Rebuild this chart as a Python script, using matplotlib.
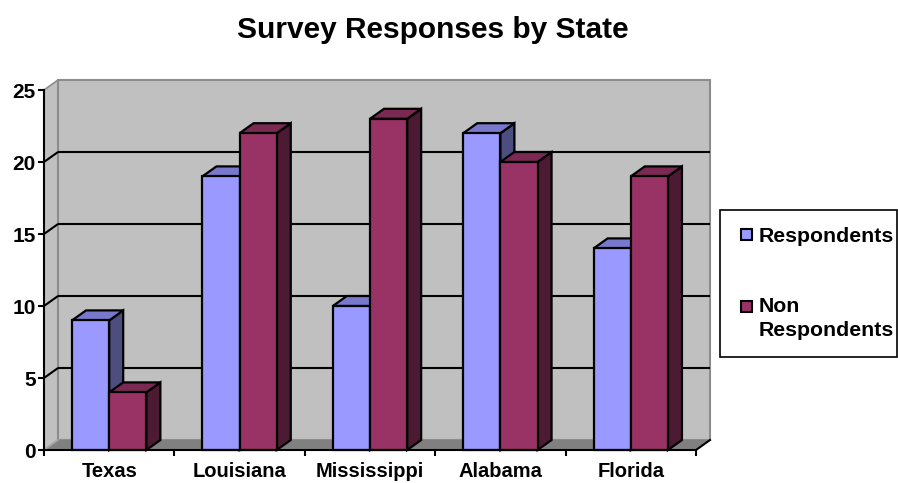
import matplotlib
matplotlib.use("Agg")
import matplotlib.pyplot as plt
from matplotlib.patches import Polygon, Rectangle

plt.rcParams['font.family'] = ['Liberation Sans', 'DejaVu Sans']

# Data
states = ["Texas", "Louisiana", "Mississippi", "Alabama", "Florida"]
respondents = [9, 19, 10, 22, 14]
non_respondents = [4, 22, 23, 20, 19]
series_names = ["Respondents", "Non\nRespondents"]
y_ticks = [0, 5, 10, 15, 20, 25]

# Styling
front_cols = ["#9999FF", "#993366"]
top_cols = ["#7878CC", "#7A2952"]
side_cols = ["#4D4D80", "#4D1A33"]
wall_col = "#C0C0C0"
floor_col = "#808080"
edge_gray = "#8C8C8C"

W, H = 898, 483
fig = plt.figure(figsize=(W / 100, H / 100), dpi=100)

# front plane of the plot area (pixels from top-left)
px_left, px_right, px_bottom, px_top = 44, 696, 450, 90
ax = fig.add_axes([px_left / W, 1 - px_bottom / H,
                   (px_right - px_left) / W, (px_bottom - px_top) / H])
ax.set_xlim(-0.5, len(states) - 0.5)
ax.set_ylim(0, 25)
ax.set_facecolor("none")

# 3-D depth offset in data units
x_per_px = len(states) / (px_right - px_left)
y_per_px = 25 / (px_bottom - px_top)
ddx = 14 * x_per_px
ddy = 10 * y_per_px

x0, x1 = -0.5, len(states) - 0.5
y0, y1 = 0, 25

# side wall (left)
ax.add_patch(Polygon([(x0, y0), (x0, y1), (x0 + ddx, y1 + ddy), (x0 + ddx, y0 + ddy)],
                     closed=True, facecolor=wall_col, edgecolor=edge_gray, lw=1.2,
                     clip_on=False, zorder=1))
# back wall
ax.add_patch(Rectangle((x0 + ddx, y0 + ddy), x1 - x0, y1 - y0,
                       facecolor=wall_col, edgecolor=edge_gray, lw=1.5,
                       clip_on=False, zorder=1))
# gridlines on back and side walls
for v in y_ticks[1:-1]:
    ax.plot([x0 + ddx, x1 + ddx], [v + ddy, v + ddy], color="black", lw=1.5,
            clip_on=False, zorder=2, solid_capstyle="butt")
    ax.plot([x0, x0 + ddx], [v, v + ddy], color="black", lw=1.5,
            clip_on=False, zorder=2, solid_capstyle="butt")
# floor
ax.add_patch(Polygon([(x0, y0), (x1, y0), (x1 + ddx, y0 + ddy), (x0 + ddx, y0 + ddy)],
                     closed=True, facecolor=floor_col, edgecolor="none",
                     clip_on=False, zorder=3))
ax.plot([x0, x0 + ddx], [y0, y0 + ddy], color="#A8A8A8", lw=1.2, clip_on=False, zorder=3)
ax.plot([x1, x1 + ddx], [y0, y0 + ddy], color="black", lw=1.5, clip_on=False, zorder=3)


def draw_box(xl, w, h, s, z):
    xr = xl + w
    kw = dict(closed=True, edgecolor="black", lw=1.6, joinstyle="miter",
              clip_on=False, zorder=z)
    ax.add_patch(Polygon([(xr, 0), (xr + ddx, ddy), (xr + ddx, h + ddy), (xr, h)],
                         facecolor=side_cols[s], **kw))
    ax.add_patch(Polygon([(xl, h), (xr, h), (xr + ddx, h + ddy), (xl + ddx, h + ddy)],
                         facecolor=top_cols[s], **kw))
    ax.add_patch(Polygon([(xl, 0), (xr, 0), (xr, h), (xl, h)],
                         facecolor=front_cols[s], **kw))


bar_w = 0.285
z = 4
for i in range(len(states)):
    for s, vals in enumerate([respondents, non_respondents]):
        draw_box(i - bar_w + s * bar_w, bar_w, vals[i], s, z)
        z += 1

# axes
for side in ["top", "right"]:
    ax.spines[side].set_visible(False)
for side in ["left", "bottom"]:
    ax.spines[side].set_color("black")
    ax.spines[side].set_linewidth(1.5)
    ax.spines[side].set_zorder(50)

ax.set_yticks(y_ticks)
ax.set_yticklabels([str(v) for v in y_ticks], fontsize=15, fontweight="bold")
ax.tick_params(axis="y", direction="out", length=4.5, width=1.5, pad=1.5)

ax.set_xticks([i - 0.5 for i in range(len(states) + 1)])
ax.set_xticklabels([""] * (len(states) + 1))
ax.set_xticks(list(range(len(states))), minor=True)
ax.set_xticklabels(states, minor=True, fontsize=14.5, fontweight="bold")
ax.tick_params(axis="x", which="major", direction="out", length=4, width=1.5)
ax.tick_params(axis="x", which="minor", length=0, pad=8.5)

# title
fig.text(433 / W, 1 - 30 / H, "Survey Responses by State", ha="center", va="center",
         fontsize=21.5, fontweight="bold")

# legend
lx0, lx1, ly0, ly1 = 720, 897, 210, 357
fig.patches.append(Rectangle((lx0 / W, 1 - ly1 / H), (lx1 - lx0) / W, (ly1 - ly0) / H,
                             transform=fig.transFigure, facecolor="white",
                             edgecolor="black", lw=1.2))
entry_y = [235, 306]
for s, name in enumerate(series_names):
    cy = entry_y[s]
    sq = 11
    fig.patches.append(Rectangle((741 / W, 1 - (cy + sq / 2) / H), sq / W, sq / H,
                                 transform=fig.transFigure, facecolor=front_cols[s],
                                 edgecolor="black", lw=1.5))
    fig.text(759 / W, 1 - (cy - 8.5) / H, name, ha="left", va="top", fontsize=15.3,
             fontweight="bold", linespacing=1.3)

fig.savefig("out.png", dpi=100)
